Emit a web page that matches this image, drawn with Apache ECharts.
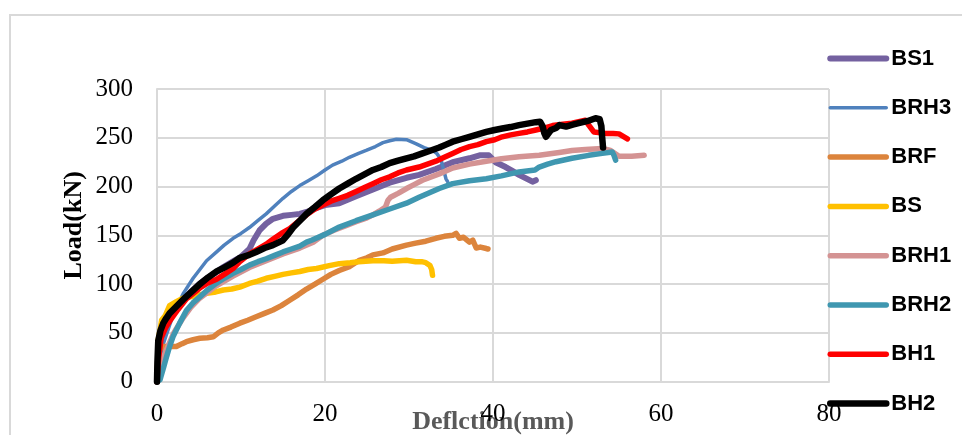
<!DOCTYPE html>
<html>
<head>
<meta charset="utf-8">
<script src="https://cdn.jsdelivr.net/npm/echarts@6/dist/echarts.min.js"></script>
<style>html,body{margin:0;padding:0;background:#fff}#c{width:962px;height:435px}</style>
</head>
<body>
<div id="c"></div>
<script>
var seriesNames = ['BS1','BRH3','BRF','BS','BRH1','BRH2','BH1','BH2'];
var xTicks = [0,20,40,60,80];
var yTicks = [0,50,100,150,200,250,300];

var BS1 = [[0,0],[0.2,30],[0.5,48],[1,58],[2,70],[3,82],[4,92],[5,100],[6,106],[7,112],[8,118],[9,123],[10,128],[11,136],[11.5,145],[12.2,155],[13,162],[13.8,167],[15,170],[16,171],[17,172],[17.8,174],[19,178],[20,181],[21.7,183],[23.7,190],[25.7,197],[27.7,204],[29.7,209],[31.2,212],[33.2,218],[35.2,225],[37.2,229],[38.4,232],[39.5,232],[40.3,225],[41.5,220],[42.3,216],[43.1,212],[44.7,205],[45.1,206.5]];
var BRH3 = [[0,0],[0.3,20],[0.8,40],[1.5,58],[2.2,74],[3.1,90],[4.3,106],[5.1,115],[5.9,124],[7.1,133],[8,140],[9.06,147],[10,152],[11,158],[12,165],[13,172],[14,180],[15,188],[16,195],[17,201],[18,206],[19,211],[20,217],[20.9,222],[22,226],[22.9,230],[24,234],[24.9,237],[26,241],[26.9,245],[27.7,247],[28.5,248.5],[29.7,248],[30.8,244],[31.8,240],[32.8,237],[33.3,234],[33.8,228],[34.1,218],[34.4,208],[34.6,205]];
var BRF = [[0,0],[0.1,20],[0.3,33],[0.75,36],[1.5,36],[2.3,36],[3,39],[3.5,41],[4.3,43],[5.1,44.5],[6,45],[6.7,46],[7.3,50],[7.9,53],[8.8,56],[9.86,60],[10.8,63],[11.8,66.5],[12.8,70],[13.8,73.5],[14.8,78],[15.8,83.5],[16.8,89],[17.8,95],[18.8,100],[19.75,105],[20.7,110],[21.7,114],[22.9,118],[24,124],[25,127],[25.7,130],[26.9,132],[28,136],[29.7,140],[30.8,142],[32,144],[33.2,147],[34.2,149],[35.2,150],[35.6,152],[36,147],[36.5,148],[37.2,143],[37.6,145],[38,137],[38.5,138],[39.2,136.5],[39.4,136]];
var BS = [[0,0],[0.1,25],[0.15,43],[0.4,55],[0.55,63],[1.0,68],[1.5,78],[2.3,82],[3.1,85.5],[4,87],[5,89],[5.9,90.5],[7,92],[7.9,94],[8.9,95],[9.86,97],[11,100.7],[12,103],[13,106],[14,108],[15,110],[16,111.5],[17,113],[18,115],[19,116],[20.5,119],[21.7,121],[23,122],[24,123],[25.7,124],[27,124],[28,123.5],[29.7,124.5],[30.8,123],[31.5,123],[32,122],[32.5,119],[32.7,115],[32.8,109]];
var BRH1 = [[0,0],[0.5,18],[1,30],[2,50],[3,64],[4,76],[5,85],[7,98],[9,108],[11,117],[13,124],[15,131],[17,137],[18.6,143],[19.75,150],[21,155],[22.5,160],[23.7,164],[25,168],[25.7,171],[26.5,175],[27.2,179],[27.5,186],[27.8,189],[28.7,193],[29.7,198],[30.6,202],[31.6,206.5],[33.6,213],[35.2,219],[37.2,223],[39.2,226],[41,228.5],[43.1,230.5],[45.5,232],[47.9,235],[49.4,237],[51,238],[53,239],[54,237],[55,231],[56.5,231],[58,232]];
var BRH2 = [[0,0],[0.36,2],[0.8,15],[1.15,26],[1.5,36],[1.9,46],[2.7,60],[3.5,73],[4.3,81],[5.1,87],[6,94],[7.1,101],[8,106],[9.06,111],[10,115],[11,119.5],[12,123],[13,126],[14,129.5],[15,133],[16,136],[17,139],[17.8,143],[18.4,145],[18.6,147],[20,151],[21.7,158.5],[23.7,165],[25.7,171],[27.7,177],[29.7,183],[31.2,189],[33.6,198],[35.2,203],[37.2,206],[39.2,208],[41,211],[43.1,215],[45,217],[45.5,220],[46.5,223],[47.5,225.5],[49.4,229],[51.4,232],[53,234],[54.2,235.5],[54.4,232],[54.6,227]];
var BH1 = [[0,0],[0.2,25],[0.5,45],[1,55],[1.5,62],[2.5,74],[3.5,85],[5.1,96],[6,101],[7.1,105],[8,110],[9.06,116],[9.86,123],[11,131],[12,136],[13,141],[13.8,146],[14.8,152],[15.8,157],[16.8,164],[17.8,171],[18.8,177],[19.75,181],[20.7,185],[21.7,188],[22.7,191],[23.7,195],[24.7,199],[25.7,203],[26.7,207],[27.7,210],[28.7,214],[29.7,217],[31.2,220],[32.2,223],[33.2,226],[34.2,230],[35.2,234],[36.2,238],[37.2,241],[38.2,243],[39.2,246],[40.2,248],[41.1,251],[42.1,253],[43.1,254.5],[44.1,256],[45.1,258],[46.1,260],[47.1,262.5],[48.3,264],[49.4,265],[50.2,266.5],[51,268],[51.4,263],[52,256],[53.4,254.5],[54.3,254.5],[55,254],[55.6,251],[56,249]];
var BH2 = [[0,0],[0.05,20],[0.15,42],[0.4,52],[0.75,60],[1.1,65],[1.5,70],[2.3,77],[3.1,84],[4.1,92],[5.1,100],[6.1,107],[7.1,113],[8,117],[9.06,122],[9.86,127],[11,130],[11.8,133],[12.8,137],[13.8,140],[15,145],[15.6,151],[16.2,158],[17,165],[17.8,172],[18.8,179],[19.75,186],[20.7,192],[21.7,198],[22.7,203],[23.7,208],[24.7,212.5],[25.7,217],[26.7,220],[27.7,224],[28.7,226.5],[29.7,229],[30.6,231],[31.6,234],[32.6,237],[33.6,240],[34.4,243],[35.2,246],[36.2,248.5],[37.2,251],[38.2,253.5],[39.2,256],[40.2,258],[41.1,259.5],[42.1,261],[43.1,263],[44.1,264.5],[45.1,266],[45.6,266.5],[45.9,262],[46.1,255],[46.3,251],[46.9,258],[47.5,260],[47.9,263],[48.7,261.5],[49.5,263.5],[50.2,265],[51.2,267],[52.2,270],[52.7,269],[52.9,262],[53.0,250],[53.1,240]];

var seriesData = [BS1,BRH3,BRF,BS,BRH1,BRH2,BH1,BH2];
var colors = ['#7461a0','#4f81bd','#dc843c','#ffc000','#d49393','#3f97b0','#ff0000','#000000'];
var widths = [6,3.5,5.5,5.5,5.5,5.5,5.5,6.5];

var chart = echarts.init(document.getElementById('c'), null, {renderer:'canvas'});
var gridColor = '#d9d9d9';
var option = {
  animation: false,
  backgroundColor: '#ffffff',
  grid: {left:157, right:133, top:89, bottom:53.3, containLabel:false, outerBoundsMode:'none'},
  graphic: [{type:'rect', z:-1, shape:{x:10,y:15,width:1000,height:500}, style:{fill:'none', stroke:gridColor, lineWidth:2}}],
  legend: {
    orient:'vertical', left:827, top:47.5, padding:0, itemWidth:56, itemHeight:20, itemGap:27.3,
    data: seriesNames,
    itemStyle:{opacity:0},
    lineStyle:{width:'inherit', cap:'round'},
    textStyle:{fontFamily:'Liberation Sans', fontWeight:'bold', fontSize:22, color:'#000', lineHeight:20}
  },
  xAxis: {
    type:'value', min:0, max:80, interval:20,
    name:'Deflction(mm)', nameLocation:'middle', nameGap:28, nameMoveOverlap:false,
    nameTextStyle:{fontFamily:'Liberation Serif', fontWeight:'bold', fontSize:26, color:'#595959'},
    axisLine:{show:true, lineStyle:{color:gridColor, width:2}},
    axisTick:{show:false},
    splitLine:{show:true, lineStyle:{color:gridColor, width:2}},
    axisLabel:{fontFamily:'Liberation Serif', fontSize:25, color:'#000', margin:20,
      formatter:function(v){return xTicks.indexOf(v)>=0?String(v):'';}}
  },
  yAxis: {
    type:'value', min:0, max:300, interval:50,
    name:'Load(kN)', nameLocation:'middle', nameGap:70, nameMoveOverlap:false,
    nameTextStyle:{fontFamily:'Liberation Serif', fontWeight:'bold', fontSize:26, color:'#000', padding:[0,0,0,20]},
    axisLine:{show:true, lineStyle:{color:gridColor, width:2}},
    axisTick:{show:false},
    splitLine:{show:true, lineStyle:{color:gridColor, width:2}},
    axisLabel:{fontFamily:'Liberation Serif', fontSize:25, color:'#000', margin:24,
      formatter:function(v){return yTicks.indexOf(v)>=0?String(v):'';}}
  },
  series: seriesNames.map(function(n,i){
    return {name:n, type:'line', data:seriesData[i], showSymbol:false, symbol:'none',
      color:colors[i],
      lineStyle:{color:colors[i], width:widths[i], cap:'round', join:'round'}};
  })
};
chart.setOption(option);
</script>
</body>
</html>
